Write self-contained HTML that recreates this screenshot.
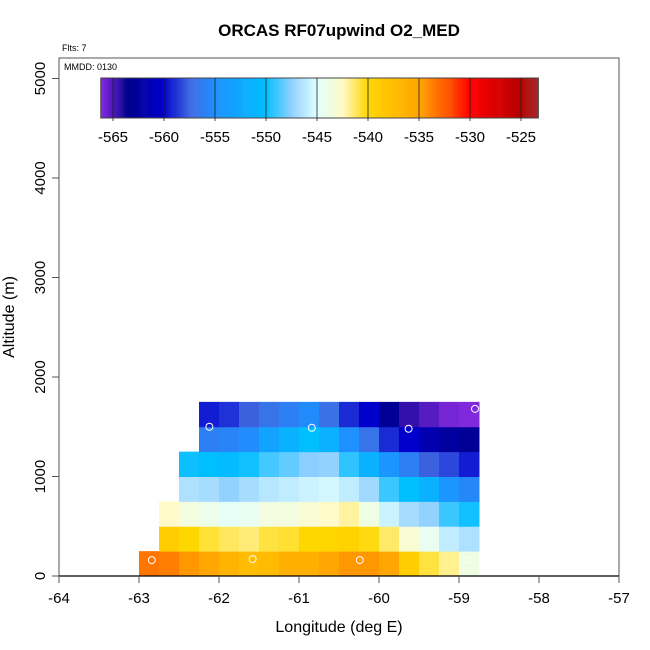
<!DOCTYPE html>
<html><head><meta charset="utf-8"><style>
html,body{margin:0;padding:0;background:#fff}
svg{display:block;font-family:"Liberation Sans",sans-serif}
</style></head><body>
<svg id="chart" width="650" height="650" xmlns="http://www.w3.org/2000/svg">
<text x="339" y="36" text-anchor="middle" font-size="17" font-weight="bold">ORCAS RF07upwind O2_MED</text>
<text x="62" y="51" font-size="9">Flts: 7</text>
<g id="cells"></g>
<g id="pts"></g>
<rect x="59" y="58" width="560" height="518" fill="none" stroke="#555" stroke-width="1"/>
<line x1="59" y1="576" x2="619" y2="576" stroke="#000" stroke-width="1.2"/>
<text x="64" y="70" font-size="9">MMDD: 0130</text>
<g id="xaxis"></g>
<g id="yaxis"></g>
<text x="339" y="632" text-anchor="middle" font-size="16">Longitude (deg E)</text>
<text transform="translate(14,317) rotate(-90)" text-anchor="middle" font-size="16">Altitude (m)</text>
<g id="cbar"></g>
</svg>
<script>
const lonStart = -63, lonStep = 0.25, altStep = 250;
const rowStartCol = [0, 1, 1, 2, 2, 3, 3];
const row0 = [-533.3,-533.6,-534.5,-535.2,-536.5,-537.3,-537.2,-536,-536,-535.2,-534.5,-534.5,-535.2,-539,-540.8,-541.8,-543.8];
const row1 = [-539,-540,-540.7,-541.2,-541.5,-540.8,-540.6,-540,-539.8,-539.5,-540.2,-541.3,-543,-544.3,-546,-546.6];
const row2 = [-542.5,-543.5,-544,-544.6,-544.3,-543.5,-543.5,-543,-542.5,-542,-543.8,-545.7,-546.8,-547.4,-549,-549.7];
const row3 = [-546.6,-546.8,-547.4,-546.8,-546.3,-546,-545.7,-545.4,-546,-547,-549,-550,-551.5,-554.5,-555.5];
const row4 = [-549.8,-550,-550.3,-549.7,-548.8,-548.3,-547.6,-547.4,-549.2,-551.5,-554.5,-556,-557.7,-558.3,-559.3];
const row5 = [-556,-555.7,-555.2,-553,-551.5,-550,-551.5,-555,-556.8,-559,-560,-561.5,-562.5,-563];
const row6 = [-559.3,-558.8,-557.7,-556.8,-556,-555.3,-557,-559,-560,-563,-564.5,-565.2,-565.8,-566];
const rows = [row0,row1,row2,row3,row4,row5,row6];
const ptLon = [-62.84,-62.12,-61.58,-60.84,-60.24,-59.63,-58.9,-58.8];
const ptAlt = [160,1500,170,1490,160,1480,160,1680];
const xTicks = [-64,-63,-62,-61,-60,-59,-58,-57];
const yTicks = [0,1000,2000,3000,4000,5000];
const cbTicks = [-565,-560,-555,-550,-545,-540,-535,-530,-525];

const X = v => 59 + (v + 64) * 80;
const Y = a => 576 - a * 0.0995;
const CB = v => 113 + (v + 565) * 10.2;
const stops = [[-566.2,[138,43,226]],[-563.5,[0,0,139]],[-560,[0,0,205]],[-557.5,[65,105,225]],[-555,[30,144,255]],[-550,[0,191,255]],[-547.5,[144,208,255]],[-545,[224,255,255]],[-542.5,[255,250,200]],[-540,[255,215,0]],[-535,[255,165,0]],[-532,[255,80,0]],[-530,[255,0,0]],[-525,[180,0,0]],[-523.3,[165,42,42]]];
function col(v){
  if(v<=stops[0][0]) return `rgb(${stops[0][1]})`;
  for(let i=1;i<stops.length;i++){
    if(v<=stops[i][0]){const a=stops[i-1],b=stops[i],t=(v-a[0])/(b[0]-a[0]);
      return `rgb(${a[1].map((c,k)=>Math.round(c+(b[1][k]-c)*t)).join(',')})`;}
  }
  return `rgb(${stops[stops.length-1][1]})`;
}
const NS='http://www.w3.org/2000/svg';
function mk(tag,attrs,parent){const e=document.createElementNS(NS,tag);for(const k in attrs)e.setAttribute(k,attrs[k]);parent.appendChild(e);return e;}
const cells=document.getElementById('cells');
rows.forEach((r,ri)=>{r.forEach((v,ci)=>{
  const lon=lonStart+(rowStartCol[ri]+ci)*lonStep;
  const x0=X(lon),x1=X(lon+lonStep),y0=Y((ri+1)*altStep),y1=Y(ri*altStep);
  const e=mk('rect',{x:x0,y:y0,width:x1-x0+0.5,height:y1-y0+0.5,fill:col(v)},cells);
  
  
});});
const pts=document.getElementById('pts');
ptLon.forEach((l,i)=>{
  const e=mk('circle',{cx:X(l),cy:Y(ptAlt[i]),r:3.5,fill:'none',stroke:'#fff','stroke-width':1},pts);
  
  
});
const xa=document.getElementById('xaxis');
xTicks.forEach(t=>{
  mk('line',{x1:X(t),x2:X(t),y1:576,y2:583,stroke:'#555'},xa);
  const e=mk('text',{x:X(t),y:603,'text-anchor':'middle','font-size':15},xa);
  e.textContent=t;
  
  
});
const ya=document.getElementById('yaxis');
yTicks.forEach(t=>{
  mk('line',{x1:52,x2:59,y1:Y(t),y2:Y(t),stroke:'#555'},ya);
  const e=mk('text',{transform:`translate(45,${Y(t)}) rotate(-90)`,'text-anchor':'middle','font-size':15},ya);
  e.textContent=t;
  
  
});
const cb=document.getElementById('cbar');
const cbMin=-566.2,cbMax=-523.3;
for(let v=cbMin;v<cbMax;v+=0.1){
  mk('rect',{x:CB(v),y:78,width:1.3,height:40,fill:col(v+0.05)},cb);
}
mk('rect',{x:CB(cbMin),y:78,width:CB(cbMax)-CB(cbMin),height:40,fill:'none',stroke:'#444'},cb);
cbTicks.forEach(t=>{
  mk('line',{x1:CB(t),x2:CB(t),y1:78,y2:121,stroke:'#222','stroke-width':0.8},cb);
  const e=mk('text',{x:CB(t),y:142,'text-anchor':'middle','font-size':15},cb);
  e.textContent=t;
  
  
});
</script>
</body></html>
